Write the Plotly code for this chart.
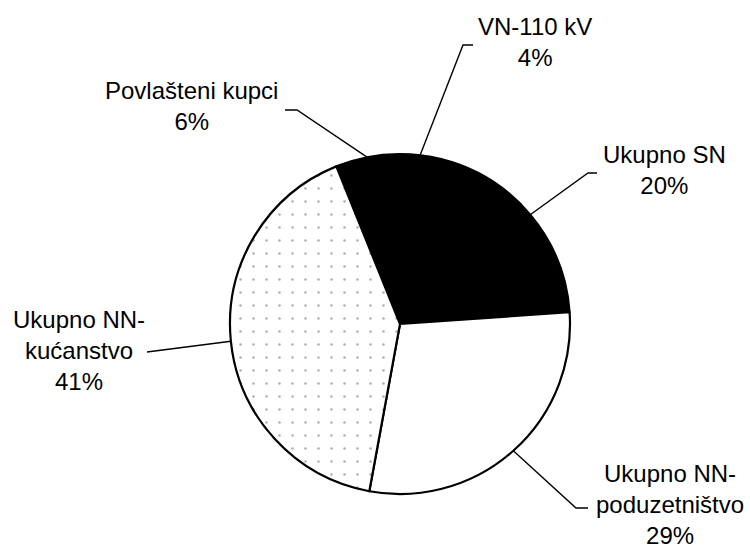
import math
import plotly.graph_objects as go

# ---- data ----
labels = ["Povlašteni kupci", "VN-110 kV", "Ukupno SN",
          "Ukupno NN-poduzetništvo", "Ukupno NN-kućanstvo"]
label_text = ["Povlašteni kupci", "VN-110 kV", "Ukupno SN",
              "Ukupno NN-<br>poduzetništvo", "Ukupno NN-<br>kućanstvo"]
values = [6, 4, 20, 29, 41]

# ---- layout / style ----
W, H = 750, 551
CX, CY, R = 400, 324, 170          # pie centre and radius in pixels
ROT = -22                          # start angle of first slice (clockwise from 12 o'clock)
FONT = "Liberation Sans, Arial, sans-serif"

slice_colors = ["black", "black", "black", "white", "white"]
slice_patterns = ["", "", "", "", "."]

# label block centres (px) and leader-line points near the label (px)
label_pos = [(191, 106), (535, 42), (664, 170), (670, 504), (79, 350)]
leader_tail = [
    [(297, 110), (285, 110)],
    [(463, 45), (473, 45)],
    [(588, 173), (597, 173)],
    [(576, 508), (588, 508)],
    [(147, 352)],
]

fig = go.Figure()
fig.add_trace(go.Pie(
    labels=labels, values=values, sort=False, direction="clockwise",
    rotation=ROT, textinfo="none", hoverinfo="label+percent",
    marker=dict(colors=slice_colors,
                line=dict(color="black", width=2.2),
                pattern=dict(shape=slice_patterns, fgcolor="#b0b0b0",
                             bgcolor="white", size=13, solidity=0.03)),
    domain=dict(x=[(CX - R) / W, (CX + R) / W],
                y=[1 - (CY + R) / H, 1 - (CY - R) / H]),
    showlegend=False,
))

total = sum(values)
cum = 0.0
annotations = []
shapes = []
for i, v in enumerate(values):
    mid = ROT + (cum + v / 2) / total * 360.0
    cum += v
    a = math.radians(mid)
    ex, ey = CX + R * math.sin(a), CY - R * math.cos(a)
    pts = [(ex, ey)] + leader_tail[i]
    path = "M " + " L ".join(f"{x:.1f},{y:.1f}" for x, y in pts)
    shapes.append(dict(type="path", path=path, xref="x", yref="y",
                       line=dict(color="black", width=1.4), layer="above"))
    pct = round(v / total * 100)
    lx, ly = label_pos[i]
    annotations.append(dict(
        x=lx, y=ly, xref="x", yref="y", showarrow=False,
        text=f"{label_text[i]}<br>{pct}%", align="center",
        xanchor="center", yanchor="middle",
        font=dict(family=FONT, size=24, color="black")))

fig.update_layout(
    width=W, height=H, margin=dict(l=0, r=0, t=0, b=0),
    paper_bgcolor="white", plot_bgcolor="white",
    xaxis=dict(range=[0, W], visible=False, fixedrange=True),
    yaxis=dict(range=[H, 0], visible=False, fixedrange=True),
    annotations=annotations, shapes=shapes,
)

fig.write_html("out.html",
               config={"displayModeBar": False},
               post_script="document.body.style.margin='0';"
                           "document.body.style.overflow='hidden';")
